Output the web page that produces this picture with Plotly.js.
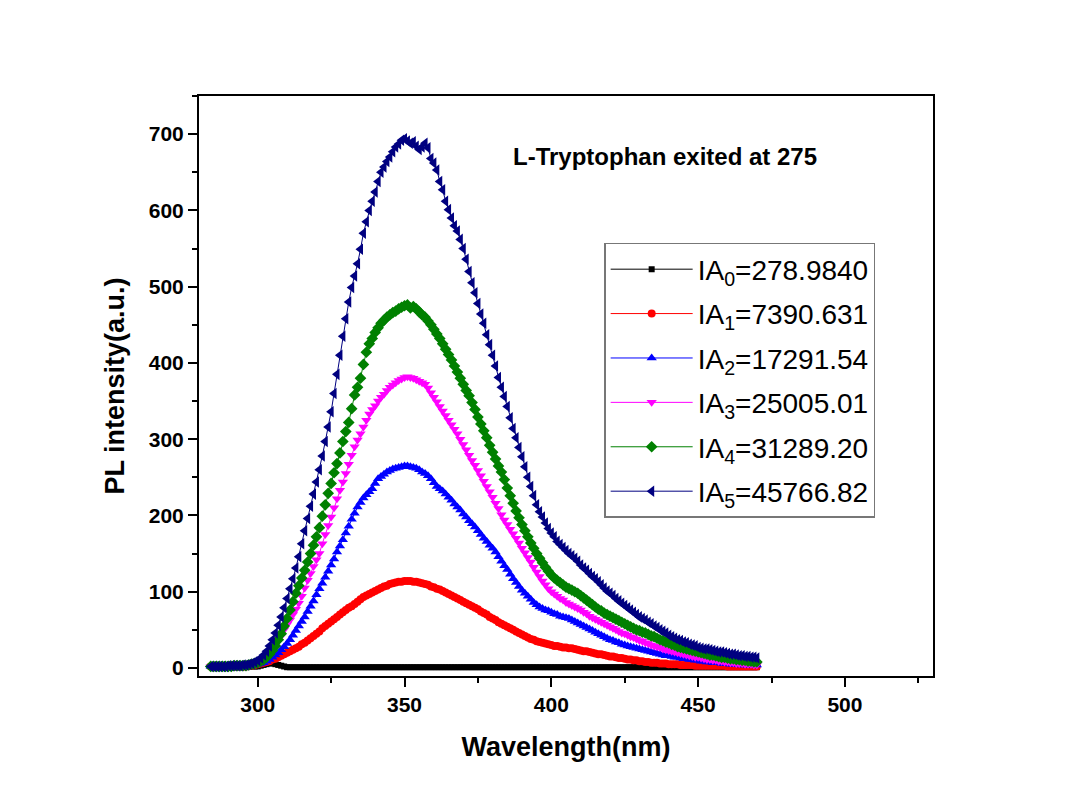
<!DOCTYPE html>
<html>
<head>
<meta charset="utf-8">
<script src="https://cdn.plot.ly/plotly-3.0.1.min.js"></script>
<style>html,body{margin:0;padding:0;background:#fff;}</style>
</head>
<body>
<div id="chart" style="width:1068px;height:802px;"></div>
<script>
// Wavelength grid (nm)
const wavelength = [
 284,285,286,287,288,289,
 290,291,292,293,294,295,296,297,298,299,
 300,301,302,303,304,305,306,307,308,309,
 310,311,312,313,314,315,316,317,318,319,
 320,321,322,323,324,325,326,327,328,329,
 330,331,332,333,334,335,336,337,338,339,
 340,341,342,343,344,345,346,347,348,349,
 350,351,352,353,354,355,356,357,358,359,
 360,361,362,363,364,365,366,367,368,369,
 370,371,372,373,374,375,376,377,378,379,
 380,381,382,383,384,385,386,387,388,389,
 390,391,392,393,394,395,396,397,398,399,
 400,401,402,403,404,405,406,407,408,409,
 410,411,412,413,414,415,416,417,418,419,
 420,421,422,423,424,425,426,427,428,429,
 430,431,432,433,434,435,436,437,438,439,
 440,441,442,443,444,445,446,447,448,449,
 450,451,452,453,454,455,456,457,458,459,
 460,461,462,463,464,465,466,467,468,469,
 470
];

const seriesNames = [
 'IA<sub>0</sub>=278.9840',
 'IA<sub>1</sub>=7390.631',
 'IA<sub>2</sub>=17291.54',
 'IA<sub>3</sub>=25005.01',
 'IA<sub>4</sub>=31289.20',
 'IA<sub>5</sub>=45766.82'
];

const ia0 = [
 2,2,2,2,2,2,
 2,2,2,2,2,2,2,2,2,2,
 2,3,4,5,6,6,5,4,3,2,
 1,1,1,1,1,1,1,1,1,1,
 1,1,1,1,1,1,1,1,1,1,
 1,1,1,1,1,1,1,1,1,1,
 1,1,1,1,1,1,1,1,1,1,
 1,1,1,1,1,1,1,1,1,1,
 1,1,1,1,1,1,1,1,1,1,
 1,1,1,1,1,1,1,1,1,1,
 1,1,1,1,1,1,1,1,1,1,
 1,1,1,1,1,1,1,1,1,1,
 1,1,1,1,1,1,1,1,1,1,
 1,1,1,1,1,1,1,1,1,1,
 1,1,1,1,1,1,1,1,1,1,
 1,1,1,1,1,1,1,1,1,1,
 1,1,1,1,1,1,1,1,1,1,
 1,1,1,1,1,1,1,1,1,1,
 1,1,1,1,1,1,1,1,1,1,
 1
];

const ia1 = [
 2,2,2,2,2,2,
 2,2,2,2,2,2,2,3,3,4,
 5,6,7,8,9,11,12,14,16,18,
 20,22,24,26,28,31,33,36,39,42,
 45,48,52,55,58,61,64,67,70,73,
 76,79,81,84,87,90,93,95,97,99,
 101,103,105,107,108,110,111,112,113,113,
 114,114,114,113,113,112,111,110,109,107,
 106,104,103,101,99,97,95,93,91,89,
 87,85,83,81,79,77,74,72,70,67,
 65,63,60,58,56,54,52,50,48,46,
 44,42,40,38,37,35,34,33,32,31,
 30,29,29,28,27,27,26,26,25,24,
 23,22,22,21,20,19,18,18,17,16,
 15,15,14,13,13,12,11,11,10,10,
 9,9,8,8,7,7,7,6,6,6,
 5,5,5,5,4,4,4,4,4,3,
 3,3,3,3,3,3,3,3,3,3,
 2,2,2,2,2,2,2,2,2,2,
 2
];

const ia2 = [
 2,2,2,2,2,2,
 2,2,2,2,3,3,3,3,4,4,
 5,6,7,9,11,14,17,20,24,28,
 32,37,43,49,55,61,67,74,81,88,
 96,104,111,119,127,135,143,152,160,168,
 177,186,195,203,211,217,223,227,231,235,
 242,248,251,254,257,259,261,262,263,264,
 265,265,264,263,262,260,257,255,252,248,
 243,238,235,232,228,224,220,215,211,207,
 202,198,193,189,185,180,175,170,166,161,
 157,152,146,140,134,129,123,117,112,107,
 102,98,94,90,86,83,80,78,76,75,
 73,71,70,68,67,66,65,63,61,59,
 57,55,53,51,49,47,45,43,41,39,
 37,36,34,33,31,30,29,28,27,26,
 25,24,23,22,21,20,19,18,17,16,
 16,15,14,14,13,12,12,11,11,10,
 10,9,9,8,8,7,7,7,6,6,
 6,5,5,5,5,4,4,4,4,4,
 4
];

const ia3 = [
 2,2,2,2,2,2,
 2,2,2,3,3,3,3,4,4,5,
 6,8,10,13,17,22,28,35,42,50,
 57,63,70,77,85,94,105,115,124,133,
 142,150,163,175,187,198,210,222,233,244,
 255,267,279,290,299,307,316,325,333,339,
 344,350,355,359,364,368,371,374,377,379,
 381,382,381,380,378,376,374,372,367,361,
 355,349,343,337,331,325,319,313,307,300,
 293,286,279,272,266,259,252,245,238,231,
 224,216,209,201,194,188,182,176,170,164,
 157,151,145,139,132,126,120,114,109,104,
 100,97,94,91,89,86,84,82,80,78,
 76,73,71,68,66,64,62,60,58,56,
 54,52,50,48,46,45,43,41,40,38,
 36,35,33,32,30,29,28,27,25,24,
 23,22,21,20,19,18,17,16,15,14,
 14,13,12,11,11,10,10,9,9,8,
 8,7,7,6,6,6,5,5,5,4,
 4
];

const ia4 = [
 2,2,2,2,2,2,
 2,2,3,3,3,3,3,4,5,6,
 7,9,11,14,18,23,29,37,45,55,
 65,76,87,98,108,118,128,139,150,161,
 172,184,199,214,229,242,256,268,282,297,
 310,322,340,358,368,380,398,414,425,432,
 440,446,452,456,460,463,466,468,471,473,
 475,476,472,474,471,467,463,460,455,450,
 444,438,432,425,418,411,404,396,388,380,
 372,364,357,348,339,329,320,311,302,292,
 283,274,265,257,247,236,226,216,206,197,
 188,180,172,164,157,150,144,138,132,127,
 122,118,115,112,109,106,104,102,100,98,
 95,92,89,86,83,80,77,75,72,70,
 68,66,64,62,60,58,56,54,52,50,
 49,47,46,44,42,41,39,37,36,34,
 33,31,30,28,27,26,25,24,23,22,
 21,20,19,18,17,17,16,15,14,14,
 13,12,12,11,11,10,10,9,9,8,
 8
];

const ia5 = [
 2,2,2,2,2,2,
 3,3,3,3,3,4,4,5,6,8,
 10,13,17,22,29,37,46,56,67,79,
 91,104,117,131,146,163,180,196,212,228,
 244,260,278,297,316,336,360,385,410,435,
 458,480,499,514,530,549,570,585,600,612,
 624,638,650,657,664,670,677,683,687,692,
 694,691,688,690,684,680,683,688,682,668,
 662,653,638,627,612,601,590,580,573,562,
 550,536,520,505,492,478,464,452,437,424,
 410,396,381,368,356,343,328,314,302,289,
 277,264,250,238,226,214,205,198,190,183,
 177,172,166,162,158,154,150,147,144,140,
 135,131,128,124,120,117,113,109,105,101,
 98,95,91,88,85,82,79,76,73,70,
 67,65,63,60,58,55,53,50,48,46,
 43,41,39,37,36,34,33,31,30,29,
 27,26,25,25,24,23,22,21,21,20,
 19,18,18,17,16,16,15,15,14,14,
 13
];

const seriesValues = [ia0, ia1, ia2, ia3, ia4, ia5];
const seriesColors = ['#000000', '#ff0000', '#0000ff', '#ff00ff', '#008000', '#000080'];
const seriesSymbols = ['square', 'circle', 'triangle-up', 'triangle-down', 'diamond', 'triangle-left'];
const seriesSizes = [6, 8, 9, 9, 9, 10];

const traces = seriesValues.map((vals, i) => ({
  type: 'scatter',
  mode: 'lines+markers',
  x: wavelength,
  y: vals,
  name: seriesNames[i],
  legendgroup: 'g' + i,
  line: {color: seriesColors[i], width: 1},
  marker: {color: seriesColors[i], symbol: seriesSymbols[i], size: seriesSizes[i], line: {width: 0}}
}));

const FONT = 'Liberation Sans, Arial, Helvetica, sans-serif';

const layout = {
  width: 1068,
  height: 802,
  paper_bgcolor: '#ffffff',
  plot_bgcolor: '#ffffff',
  margin: {l: 199, r: 135, t: 96, b: 126},
  font: {family: FONT, color: '#000000'},
  showlegend: true,
  xaxis: {
    range: [280, 530],
    tick0: 300, dtick: 50,
    ticks: 'outside', ticklen: 9, tickwidth: 2, tickcolor: '#000',
    minor: {dtick: 25, ticks: 'outside', ticklen: 5, tickwidth: 2, tickcolor: '#000', showgrid: false},
    showline: true, linewidth: 2, linecolor: '#000', mirror: true,
    showgrid: false, zeroline: false,
    tickfont: {family: FONT, size: 21, weight: 'bold', color: '#000'},
    title: {text: 'Wavelength(nm)', font: {family: FONT, size: 27, weight: 'bold', color: '#000'}, standoff: 22}
  },
  yaxis: {
    range: [-10.5, 750],
    tick0: 0, dtick: 100,
    ticks: 'outside', ticklen: 9, tickwidth: 2, tickcolor: '#000',
    minor: {dtick: 50, ticks: 'outside', ticklen: 5, tickwidth: 2, tickcolor: '#000', showgrid: false},
    showline: true, linewidth: 2, linecolor: '#000', mirror: true,
    showgrid: false, zeroline: false,
    tickfont: {family: FONT, size: 21, weight: 'bold', color: '#000'},
    title: {text: 'PL intensity(a.u.)', font: {family: FONT, size: 27, weight: 'bold', color: '#000'}, standoff: 16}
  },
  legend: {
    x: 0.552, y: 0.7466, xanchor: 'left', yanchor: 'top',
    bgcolor: '#ffffff', bordercolor: '#777777', borderwidth: 1.5,
    font: {family: FONT, size: 28, color: '#000'},
    tracegroupgap: 5,
    itemwidth: 82
  },
  annotations: [{
    text: 'L-Tryptophan exited at 275',
    xref: 'paper', yref: 'paper', x: 0.635, y: 0.895,
    xanchor: 'center', yanchor: 'middle', showarrow: false,
    font: {family: FONT, size: 24, weight: 'bold', color: '#000'}
  }]
};

Plotly.newPlot('chart', traces, layout, {displayModeBar: false, staticPlot: true});
</script>
</body>
</html>
